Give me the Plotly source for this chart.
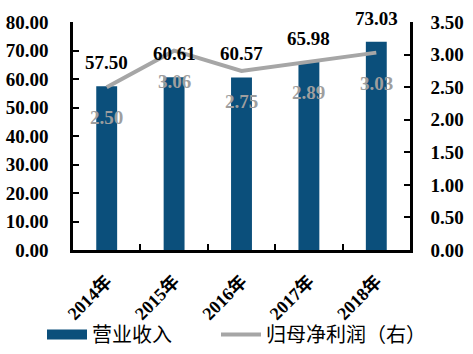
import plotly.graph_objects as go

categories = ["2014年", "2015年", "2016年", "2017年", "2018年"]
revenue = [57.50, 60.61, 60.57, 65.98, 73.03]
net_profit = [2.50, 3.06, 2.75, 2.89, 3.03]
left_ticks = [0, 10, 20, 30, 40, 50, 60, 70, 80]
right_ticks = [0, 0.5, 1.0, 1.5, 2.0, 2.5, 3.0, 3.5]

FONT = "Liberation Serif, 'Times New Roman', 'Noto Sans CJK SC', serif"
BAR_C = "#0B4F7B"
LINE_C = "#A6A6A6"

fig = go.Figure()
fig.add_trace(go.Bar(x=categories, y=revenue, name="营业收入", showlegend=False,
                     marker=dict(color=BAR_C, line=dict(width=0)), width=0.31))
# legend entry for bars drawn as a wide swatch (no data points)
fig.add_trace(go.Scatter(x=[None], y=[None], name="营业收入", mode="lines",
                         line=dict(color=BAR_C, width=11), legend="legend"))
fig.add_trace(go.Scatter(x=categories, y=net_profit, name="归母净利润（右）", yaxis="y2",
                         mode="lines", line=dict(color=LINE_C, width=4), legend="legend2"))

for c, v in zip(categories, revenue):
    fig.add_annotation(x=c, y=v, xref="x", yref="y", text=f"<b>{v:.2f}</b>",
                       showarrow=False, yanchor="bottom", yshift=11,
                       font=dict(family=FONT, size=19, color="black"))
for c, v in zip(categories, net_profit):
    fig.add_annotation(x=c, y=v, xref="x", yref="y2", text=f"<b>{v:.2f}</b>",
                       showarrow=False, yanchor="top", yshift=-18,
                       font=dict(family=FONT, size=19, color="#9E9E9E"))

axis_font = dict(family=FONT, size=19, color="black", weight="bold")
legend_common = dict(orientation="h", xanchor="left", xref="container",
                     y=0.055, yanchor="middle", yref="container",
                     font=dict(family=FONT, size=20, color="black"), itemwidth=40,
                     bgcolor="rgba(0,0,0,0)")
fig.update_layout(
    width=473, height=354,
    margin=dict(l=73, r=63, t=22, b=104, autoexpand=False),
    plot_bgcolor="white", paper_bgcolor="white",
    showlegend=True,
    xaxis=dict(type="category", showline=True, linecolor="black", linewidth=2.5, automargin=False,
               ticks="inside", tickson="boundaries", ticklen=6, tickwidth=2, tickcolor="black",
               tickangle=-45, tickfont=dict(family=FONT, size=18, color="black", weight="bold"),
               ticklabelstandoff=11),
    yaxis=dict(range=[0, 80], tickvals=left_ticks, tickformat=".2f", automargin=False,
               showline=True, linecolor="black", linewidth=2.5, showgrid=False, zeroline=False,
               ticks="inside", ticklen=6, tickwidth=2, tickcolor="black",
               tickfont=axis_font, ticklabelstandoff=18),
    yaxis2=dict(range=[0, 3.5], tickvals=right_ticks, tickformat=".2f", overlaying="y", side="right",
                automargin=False,
                showline=True, linecolor="black", linewidth=2.5, showgrid=False, zeroline=False,
                ticks="inside", ticklen=6, tickwidth=2, tickcolor="black",
                tickfont=axis_font, ticklabelstandoff=14),
    legend=dict(x=42 / 473, **legend_common),
    legend2=dict(x=216 / 473, **legend_common),
)

fig.write_html("out.html")
